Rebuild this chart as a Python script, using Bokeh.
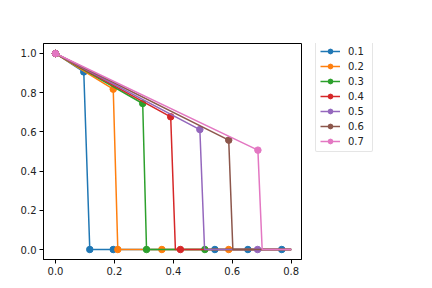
from bokeh.plotting import figure
from bokeh.layouts import row
from bokeh.models import Legend, LegendItem, FixedTicker, Range1d
from bokeh.embed import file_html
from bokeh.resources import INLINE

labels = ["0.1", "0.2", "0.3", "0.4", "0.5", "0.6", "0.7"]
colors = ["#1f77b4", "#ff7f0e", "#2ca02c", "#d62728", "#9467bd", "#8c564b", "#e377c2"]
start_x = 0.0
start_y = 1.0
peak_x = [0.096, 0.196, 0.296, 0.391, 0.490, 0.588, 0.687]
peak_y = [0.906, 0.818, 0.745, 0.677, 0.612, 0.558, 0.507]
drop_x = [0.1164, 0.2115, 0.309, 0.407, 0.506, 0.602, 0.7015]
end_x = 0.8
zero_marks = [
    [0.1164, 0.196, 0.541, 0.653, 0.768],
    [0.2115, 0.361, 0.588],
    [0.309, 0.507],
    [0.424],
    [0.686],
    [],
    [],
]
x_ticks = [0.0, 0.2, 0.4, 0.6, 0.8]
y_ticks = [0.0, 0.2, 0.4, 0.6, 0.8, 1.0]

FONT = "DejaVu Sans"

p = figure(width=302, height=280, output_backend="svg", toolbar_location=None,
           x_range=Range1d(-0.0407, 0.835), y_range=Range1d(-0.051, 1.051),
           min_border_left=43, min_border_right=1, min_border_top=43, min_border_bottom=21)
p.background_fill_color = "white"
p.border_fill_color = "white"
p.outline_line_color = "black"
p.outline_line_width = 1
p.grid.visible = False

for ax in (p.xaxis[0], p.yaxis[0]):
    ax.major_tick_in = 0
    ax.major_tick_out = 4
    ax.minor_tick_out = 0
    ax.minor_tick_in = 0
    ax.axis_line_color = "black"
    ax.major_tick_line_color = "black"
    ax.major_label_text_font = FONT
    ax.major_label_text_font_size = "10px"
    ax.major_label_text_color = "#222222"
    ax.major_label_standoff = 3

p.xaxis[0].ticker = FixedTicker(ticks=x_ticks)
p.yaxis[0].ticker = FixedTicker(ticks=y_ticks)
p.xaxis[0].major_label_overrides = {t: f"{t:.1f}" for t in x_ticks}
p.yaxis[0].major_label_overrides = {t: f"{t:.1f}" for t in y_ticks}

# legend panel: a separate figure to the right of the axes; its ranges keep
# its copies of the series out of view so only the legend shows
pl = figure(width=122, height=280, output_backend="svg", toolbar_location=None,
            title=None, x_range=Range1d(10, 11), y_range=Range1d(10, 11),
            min_border=0, min_border_left=0, min_border_right=0,
            min_border_top=0, min_border_bottom=0)
pl.axis.visible = False
pl.grid.visible = False
pl.outline_line_color = None
pl.background_fill_color = "white"
pl.border_fill_color = "white"

items = []
for i, lab in enumerate(labels):
    lx = [start_x, peak_x[i], drop_x[i], end_x]
    ly = [start_y, peak_y[i], 0.0, 0.0]
    mx = [start_x, peak_x[i]] + zero_marks[i]
    my = [start_y, peak_y[i]] + [0.0] * len(zero_marks[i])
    p.line(lx, ly, line_color=colors[i], line_width=1.5)
    p.scatter(mx, my, marker="circle", size=6.5, fill_color=colors[i], line_color=colors[i])
    g1 = pl.line(lx, ly, line_color=colors[i], line_width=1.5)
    g2 = pl.scatter(mx, my, marker="circle", size=6.5, fill_color=colors[i], line_color=colors[i])
    items.append(LegendItem(label=lab, renderers=[g1, g2]))

legend = Legend(items=items, location=(13, 107))
legend.label_text_font = FONT
legend.label_text_font_size = "10px"
legend.label_text_color = "#222222"
legend.glyph_width = 20
legend.glyph_height = 12
legend.label_height = 12
legend.label_standoff = 8
legend.spacing = 3
legend.padding = 4
legend.margin = 0
legend.border_line_color = "#cccccc"
legend.border_line_width = 1
legend.border_radius = 2
legend.background_fill_alpha = 1
pl.add_layout(legend, "center")

layout = row(p, pl, spacing=0)
open("out.html", "w").write(file_html(layout, INLINE))
